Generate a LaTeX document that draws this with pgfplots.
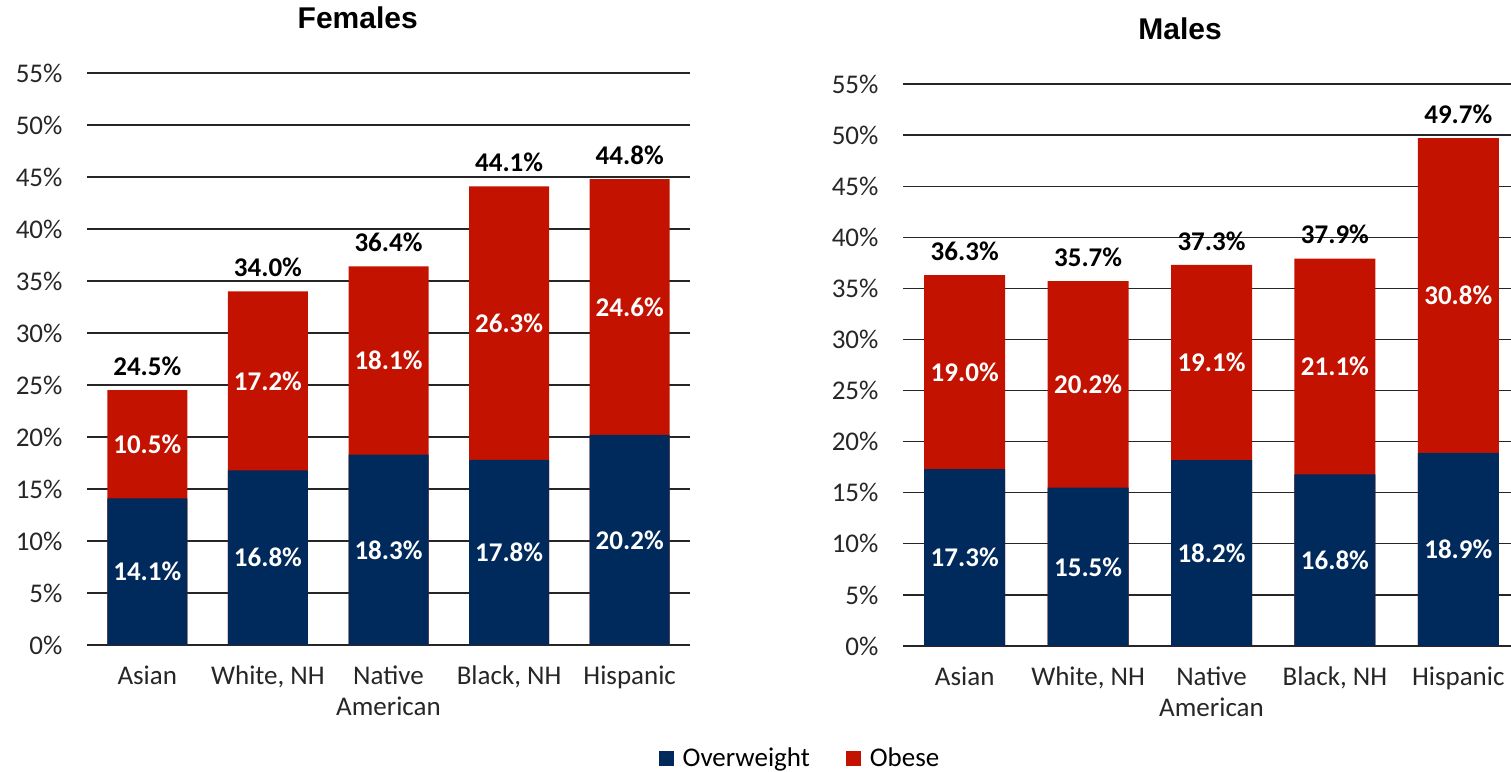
\documentclass[border=0pt]{standalone}
\usepackage{pgfplots}
\pgfplotsset{compat=1.18}
\usepackage{pgfplotstable}
\usepackage{fontspec}
\setmainfont{Carlito}
\newfontfamily\titlefont{Liberation Sans}
\definecolor{owc}{HTML}{002A5C}
\definecolor{obc}{HTML}{C41200}

\pgfplotstableread{
x ow ob tot
0 14.1 10.5 24.5
1 16.8 17.2 34.0
2 18.3 18.1 36.4
3 17.8 26.3 44.1
4 20.2 24.6 44.8
}\fem

\pgfplotstableread{
x ow ob tot
0 17.3 19.0 36.3
1 15.5 20.2 35.7
2 18.2 19.1 37.3
3 16.8 21.1 37.9
4 18.9 30.8 49.7
}\mal

\newcommand{\bigfont}{\fontsize{27}{31}\selectfont}
\pgfplotsset{
  sqleg/.style={legend image code/.code={\fill[##1, draw=none] (0pt,-7.5pt) rectangle (15pt,7.5pt); \path[draw=none, fill=none] (0pt,0pt) -- (22pt,0pt);}},
  panel/.style={
    scale only axis, anchor=south west,
    xmin=-0.5, xmax=4.5, ymin=0, ymax=55,
    xtick={0,...,4},
    xticklabels={Asian,{White, NH},{Native\\American},{Black, NH},Hispanic},
    ytick={0,5,...,55},
    yticklabels={0\%,5\%,10\%,15\%,20\%,25\%,30\%,35\%,40\%,45\%,50\%,55\%},
    axis line style={draw=none}, major tick length=0pt,
    ymajorgrids, grid style={black!85, line width=1.3pt},
    tick label style={font=\bigfont, text=black!85},
    xticklabel style={align=center, yshift=-17pt},
    yticklabel style={xshift=-21pt},
    /pgf/number format/assume math mode=true,
    title style={font=\titlefont\bfseries\fontsize{30}{34}\selectfont, anchor=center, at={(rel axis cs:0.449,1)}, yshift=49pt},
    clip=false,
  },
  inlab/.style={forget plot, draw=none, mark=none, point meta=explicit,
    nodes near coords={\pgfmathprintnumber[fixed,fixed zerofill,precision=1]{\pgfplotspointmeta}\%},
    nodes near coords style={anchor=center, text=#1, font=\bfseries\bigfont}},
}

\begin{document}
\begin{tikzpicture}
\useasboundingbox (0,0) rectangle (1511pt,771pt);

\begin{axis}[panel, at={(87pt,126pt)}, width=603pt, height=572pt, title={Females},
  legend columns=2,
  legend style={draw=none, fill=none, at={(axis description cs:1.1824,-0.1976)}, anchor=center,
    font=\bigfont, /tikz/every even column/.append style={column sep=34pt}},
  ]
\addplot[forget plot, ybar, bar width=80pt, bar shift=0pt, fill=obc, draw=none] table[x=x, y=tot] {\fem};
\addplot[forget plot, ybar, bar width=80pt, bar shift=0pt, fill=owc, draw=none] table[x=x, y=ow] {\fem};
\addplot[inlab=white] table[x=x, y expr=\thisrow{ow}/2, meta=ow] {\fem};
\addplot[inlab=white] table[x=x, y expr=(\thisrow{ow}+\thisrow{tot})/2, meta=ob] {\fem};
\addplot[inlab=black, nodes near coords style={yshift=24pt}] table[x=x, y=tot, meta=tot] {\fem};
\addlegendimage{sqleg, fill=owc, draw=none}
\addlegendentry{Overweight}
\addlegendimage{sqleg, fill=obc, draw=none}
\addlegendentry{Obese}
\end{axis}

\begin{axis}[panel, at={(903pt,125pt)}, width=617pt, height=562pt, title={Males}]
\addplot[forget plot, ybar, bar width=81pt, bar shift=0pt, fill=obc, draw=none] table[x=x, y=tot] {\mal};
\addplot[forget plot, ybar, bar width=81pt, bar shift=0pt, fill=owc, draw=none] table[x=x, y=ow] {\mal};
\addplot[inlab=white] table[x=x, y expr=\thisrow{ow}/2, meta=ow] {\mal};
\addplot[inlab=white] table[x=x, y expr=(\thisrow{ow}+\thisrow{tot})/2, meta=ob] {\mal};
\addplot[inlab=black, nodes near coords style={yshift=24pt}] table[x=x, y=tot, meta=tot] {\mal};
\end{axis}
\end{tikzpicture}
\end{document}
